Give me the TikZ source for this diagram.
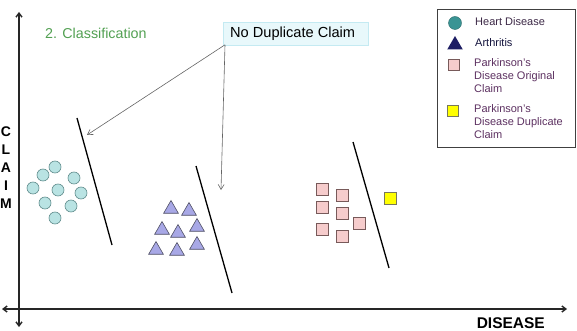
\documentclass[tikz,border=0pt]{standalone}
\usepackage{fontspec}
\setmainfont{Liberation Sans}
\usetikzlibrary{arrows.meta,shapes.geometric}

\definecolor{titlegreen}{RGB}{82,160,82}
\definecolor{calloutfill}{RGB}{232,248,251}
\definecolor{calloutline}{RGB}{196,234,242}
\definecolor{pointer}{RGB}{100,100,100}
\definecolor{heartfill}{RGB}{185,227,227}
\definecolor{heartline}{RGB}{95,140,140}
\definecolor{arthfill}{RGB}{168,168,230}
\definecolor{arthline}{RGB}{80,80,100}
\definecolor{parkfill}{RGB}{246,204,204}
\definecolor{parkline}{RGB}{120,90,90}
\definecolor{dupfill}{RGB}{255,255,0}
\definecolor{dupline}{RGB}{120,120,90}
\definecolor{legheart}{RGB}{58,148,148}
\definecolor{legarth}{RGB}{30,30,100}
\definecolor{legtext}{RGB}{60,40,70}
\definecolor{parktext}{RGB}{92,48,96}

\tikzset{
  axis/.style={line width=1.4pt, draw=black!85, {Straight Barb[length=4pt,width=6pt]}-{Straight Barb[length=4pt,width=6pt]}},
  divider/.style={line width=1.3pt, draw=black},
  pointerline/.style={draw=pointer, line width=0.6pt, -{Straight Barb[length=5pt,width=6pt]}},
  heart/.style={circle, draw=heartline, fill=heartfill, line width=0.6pt, minimum size=12pt, inner sep=0pt},
  arth/.style={regular polygon, regular polygon sides=3, draw=arthline, fill=arthfill, line width=0.6pt, minimum size=17pt, inner sep=0pt},
  park/.style={rectangle, draw=parkline, fill=parkfill, line width=0.6pt, minimum size=12pt, inner sep=0pt},
  dup/.style={rectangle, draw=dupline, fill=dupfill, line width=0.6pt, minimum size=12pt, inner sep=0pt},
  legtxt/.style={anchor=west, font=\fontsize{11}{13}\selectfont, inner sep=0pt, align=left},
  axislabel/.style={font=\fontsize{14}{14}\selectfont\bfseries, inner sep=0pt}
}

\begin{document}
\begin{tikzpicture}[x=1pt,y=-1pt]
\useasboundingbox (0,0) rectangle (577,331);

% axes
\coordinate (ytop) at (19,12);
\coordinate (ybot) at (19,327);
\coordinate (xleft) at (2,309);
\coordinate (xright) at (567,309);
\draw[axis] (ytop) -- (ybot);
\draw[axis] (xleft) -- (xright);

\node[axislabel] (lc) at (6,132) {C};
\node[axislabel] (ll) at (6,150) {L};
\node[axislabel] (la) at (6,168) {A};
\node[axislabel] (li) at (6,186) {I};
\node[axislabel] (lm) at (6,204) {M};
\node[axislabel, anchor=east, font=\fontsize{15.5}{15}\selectfont\bfseries] (disease) at (545,323) {DISEASE};

% heading
\node[anchor=west, text=titlegreen, font=\fontsize{14.3}{15}\selectfont, inner sep=0pt] (title) at (45,33) {2. Classification};

% callout
\node[draw=calloutline, fill=calloutfill, line width=0.8pt, anchor=north west,
      minimum width=145pt, minimum height=23pt, inner sep=0pt] (callout) at (223,22) {};
\node[anchor=west, inner sep=0pt, font=\fontsize{14.6}{15}\selectfont] (callouttext) at (230,33.5) {No Duplicate Claim};
\coordinate (co) at ([xshift=2pt,yshift=1pt]callout.south west);
\coordinate (t1) at (87,135);
\coordinate (t2) at (221,190);
\draw[pointerline] (co) -- (t1);
\draw[pointerline] (co) -- (t2);

% dividing lines
\coordinate (d1a) at (77,118);  \coordinate (d1b) at (112,245);
\coordinate (d2a) at (196,166); \coordinate (d2b) at (232,293);
\coordinate (d3a) at (353,142); \coordinate (d3b) at (389,268);
\draw[divider] (d1a) -- (d1b);
\draw[divider] (d2a) -- (d2b);
\draw[divider] (d3a) -- (d3b);

% heart disease claims
\node[heart] (h1) at (55,167) {};
\node[heart] (h2) at (43,175) {};
\node[heart] (h3) at (74,178) {};
\node[heart] (h4) at (33,188) {};
\node[heart] (h5) at (58,190) {};
\node[heart] (h6) at (81,193) {};
\node[heart] (h7) at (45,203) {};
\node[heart] (h8) at (71,206) {};
\node[heart] (h9) at (55,218) {};

% arthritis claims
\node[arth] (a1) at (171,209) {};
\node[arth] (a2) at (189,211) {};
\node[arth] (a3) at (162,230) {};
\node[arth] (a4) at (178,233) {};
\node[arth] (a5) at (197,227) {};
\node[arth] (a6) at (156,250) {};
\node[arth] (a7) at (177,251) {};
\node[arth] (a8) at (197,245) {};

% parkinson's original claims
\node[park] (p1) at (322,189) {};
\node[park] (p2) at (342,195) {};
\node[park] (p3) at (322,207) {};
\node[park] (p4) at (342,213) {};
\node[park] (p5) at (359,223) {};
\node[park] (p6) at (322,229) {};
\node[park] (p7) at (342,236) {};

% parkinson's duplicate claim
\node[dup] (y1) at (390,198) {};

% legend
\draw[line width=0.8pt, draw=black!75] (437,9) rectangle (575,147);
\node[circle, draw=legheart!70!black, fill=legheart, minimum size=13pt, inner sep=0pt] (lg1) at (455,23) {};
\node[legtxt, text=legtext] (lt1) at (475,22) {Heart Disease};
\node[regular polygon, regular polygon sides=3, fill=legarth, minimum size=18pt, inner sep=0pt] (lg2) at (455,45) {};
\node[legtxt, text=legarth!60!black] (lt2) at (475,43) {Arthritis};
\node[park, minimum size=11pt] (lg3) at (454,65) {};
\node[legtxt, text=parktext, anchor=north west] (lt3) at (474,58) {Parkinson's\\Disease Original\\Claim};
\node[dup, minimum size=11pt] (lg4) at (453,111) {};
\node[legtxt, text=parktext, anchor=north west] (lt4) at (474,104) {Parkinson's\\Disease Duplicate\\Claim};
\end{tikzpicture}
\end{document}
